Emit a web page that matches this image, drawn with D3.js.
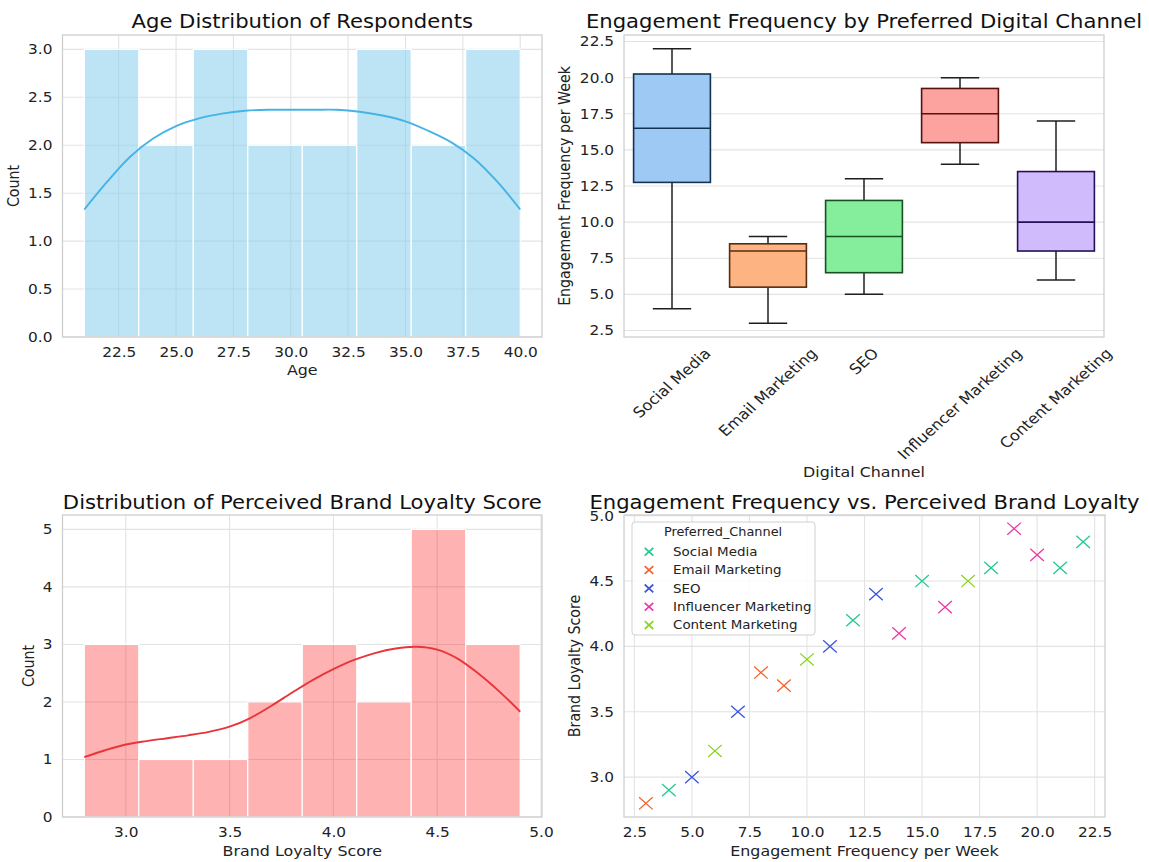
<!DOCTYPE html>
<html>
<head>
<meta charset="utf-8">
<script src="https://cdn.jsdelivr.net/npm/d3@7"></script>
<style>
  html, body { margin: 0; padding: 0; background: #ffffff; }
  svg { display: block; font-family: "DejaVu Sans", sans-serif; }
</style>
</head>
<body>
<svg id="chart" width="1149" height="862"></svg>
<script>
// ---------------- DATA ----------------
// Panel 1: age histogram
const ageRange = [21, 40];
const ageCounts = [3, 2, 3, 2, 2, 3, 2, 3];
const ageKdeX = [21, 22, 23, 24, 25, 26, 27, 28, 29, 30, 31, 32, 33, 34, 35, 36, 37, 38, 39, 40];
const ageKdeY = [1.33, 1.62, 1.88, 2.07, 2.20, 2.28, 2.33, 2.36, 2.37, 2.37, 2.37, 2.37, 2.35, 2.31, 2.25, 2.15, 2.03, 1.86, 1.62, 1.33];
const ageTicksX = [22.5, 25.0, 27.5, 30.0, 32.5, 35.0, 37.5, 40.0];
const ageTicksY = [0.0, 0.5, 1.0, 1.5, 2.0, 2.5, 3.0];

// Respondents: channel, engagement per week, brand loyalty
const channels = ["Social Media", "Email Marketing", "SEO", "Influencer Marketing", "Content Marketing"];
const respChannel = ["Email Marketing", "Social Media", "SEO", "Content Marketing", "SEO", "Email Marketing", "Email Marketing",
  "Content Marketing", "SEO", "Social Media", "SEO", "Influencer Marketing", "Social Media", "Influencer Marketing",
  "Content Marketing", "Social Media", "Influencer Marketing", "Influencer Marketing", "Social Media", "Social Media"];
const respEngagement = [3, 4, 5, 6, 7, 8, 9, 10, 11, 12, 13, 14, 15, 16, 17, 18, 19, 20, 21, 22];
const respLoyalty = [2.8, 2.9, 3.0, 3.2, 3.5, 3.8, 3.7, 3.9, 4.0, 4.2, 4.4, 4.1, 4.5, 4.3, 4.5, 4.6, 4.9, 4.7, 4.6, 4.8];

// Panel 2: box plot ticks
const engTicks = [2.5, 5.0, 7.5, 10.0, 12.5, 15.0, 17.5, 20.0, 22.5];

// Panel 3: loyalty histogram
const loyaltyRange = [2.8, 4.9];
const loyaltyCounts = [3, 1, 1, 2, 3, 2, 5, 3];
const loyaltyKdeX = [2.8, 2.9, 3.0, 3.1, 3.2, 3.3, 3.4, 3.5, 3.6, 3.7, 3.8, 3.9, 4.0, 4.1, 4.2, 4.3, 4.4, 4.5, 4.6, 4.7, 4.8, 4.9];
const loyaltyKdeY = [1.04, 1.16, 1.26, 1.32, 1.37, 1.42, 1.48, 1.57, 1.72, 1.93, 2.16, 2.38, 2.57, 2.73, 2.85, 2.93, 2.96, 2.91, 2.75, 2.49, 2.18, 1.83];
const loyaltyTicksX = [3.0, 3.5, 4.0, 4.5, 5.0];
const loyaltyTicksY = [0, 1, 2, 3, 4, 5];

// Panel 4 ticks
const scatterTicksX = [2.5, 5.0, 7.5, 10.0, 12.5, 15.0, 17.5, 20.0, 22.5];
const scatterTicksY = [3.0, 3.5, 4.0, 4.5, 5.0];

// ---------------- STYLE ----------------
const boxColors = ["#9fc9f5", "#fdb482", "#84ee9c", "#fca3a0", "#d0bcfd"];
const scatterColors = ["#22c98e", "#f4622c", "#3a55e0", "#ea3aa8", "#8bd320"];
const gridColor = "#e3e3e3";
const spineColor = "#cccccc";
const SX = 1.12;                 // horizontal text stretch of the reference
const titleSize = 18.9, tickSize = 13.7, labelSize = 14.2;

const svg = d3.select("#chart");

function frame(g, w, h) {
  g.append("rect").attr("x", 0).attr("y", 0).attr("width", w).attr("height", h)
    .attr("fill", "none").attr("stroke", spineColor).attr("stroke-width", 1.25);
}
function gridY(g, y, ticks, w) {
  g.append("g").selectAll("line").data(ticks).join("line")
    .attr("x1", 0).attr("x2", w).attr("y1", d => y(d)).attr("y2", d => y(d))
    .attr("stroke", gridColor).attr("stroke-width", 1.1);
}
function gridX(g, x, ticks, h) {
  g.append("g").selectAll("line").data(ticks).join("line")
    .attr("y1", 0).attr("y2", h).attr("x1", d => x(d)).attr("x2", d => x(d))
    .attr("stroke", gridColor).attr("stroke-width", 1.1);
}
function styleAxis(ax) {
  ax.select(".domain").remove();
  ax.selectAll("line").remove();
  ax.selectAll("text").attr("font-size", tickSize).attr("fill", "#222")
    .attr("font-family", "DejaVu Sans, sans-serif");
}
function styleAxisLeft(ax, pad) {
  styleAxis(ax);
  ax.selectAll("text").attr("x", -pad / SX).attr("transform", `scale(${SX},1)`);
}
function styleAxisBottom(ax) {
  styleAxis(ax);
  ax.selectAll("text").attr("transform", `scale(${SX},1)`);
}
function htext(x, y, txt, size, color) {
  return svg.append("text").attr("transform", `translate(${x},${y}) scale(${SX},1)`).attr("text-anchor", "middle")
    .attr("dominant-baseline", "central").attr("font-size", size).attr("fill", color).text(txt);
}
function title(x, y, txt) { htext(x, y, txt, titleSize, "#111"); }
function xlabel(x, y, txt) { htext(x, y, txt, labelSize, "#222"); }
function ylabel(x, y, txt) {
  svg.append("text").attr("transform", `translate(${x},${y}) scale(${SX},1) rotate(-90)`).attr("text-anchor", "middle")
    .attr("dominant-baseline", "central").attr("font-size", labelSize).attr("fill", "#222").text(txt);
}

// ---------------- PANEL 1: Age histogram ----------------
(function () {
  const L = 62.5, T = 35, W = 479.5, H = 302;
  const g = svg.append("g").attr("transform", `translate(${L},${T})`);
  const pad = (ageRange[1] - ageRange[0]) * 0.05;
  const x = d3.scaleLinear().domain([ageRange[0] - pad, ageRange[1] + pad]).range([0, W]);
  const y = d3.scaleLinear().domain([0, d3.max(ageCounts) * 1.05]).range([H, 0]);
  gridY(g, y, ageTicksY, W);
  gridX(g, x, ageTicksX, H);
  const bw = (ageRange[1] - ageRange[0]) / ageCounts.length;
  g.append("g").selectAll("rect").data(ageCounts).join("rect")
    .attr("x", (d, i) => x(ageRange[0] + i * bw))
    .attr("width", (d, i) => x(ageRange[0] + (i + 1) * bw) - x(ageRange[0] + i * bw))
    .attr("y", d => y(d)).attr("height", d => y(0) - y(d))
    .attr("fill", "#87CEEB").attr("fill-opacity", 0.55)
    .attr("stroke", "#ffffff").attr("stroke-width", 1.2);
  const line = d3.line().x(d => x(d[0])).y(d => y(d[1])).curve(d3.curveCatmullRom);
  g.append("path").datum(ageKdeX.map((v, i) => [v, ageKdeY[i]])).attr("d", line)
    .attr("fill", "none").attr("stroke", "#45b3e6").attr("stroke-width", 1.9);
  frame(g, W, H);
  const ax = g.append("g").attr("transform", `translate(0,${H})`)
    .call(d3.axisBottom(x).tickValues(ageTicksX).tickFormat(d3.format(".1f")).tickSize(0).tickPadding(10));
  styleAxisBottom(ax);
  const ay = g.append("g").call(d3.axisLeft(y).tickValues(ageTicksY).tickFormat(d3.format(".1f")).tickSize(0));
  styleAxisLeft(ay, 10);
  title(L + W / 2, 21.7, "Age Distribution of Respondents");
  xlabel(L + W / 2, 370, "Age");
  ylabel(14, T + H / 2, "Count");
})();

// ---------------- PANEL 2: Box plot ----------------
(function () {
  const L = 624, T = 35, W = 480, H = 302;
  const g = svg.append("g").attr("transform", `translate(${L},${T})`);
  const x = d3.scaleBand().domain(channels).range([0, W]).padding(0);
  const ext = d3.extent(respEngagement);
  const pad = (ext[1] - ext[0]) * 0.05;
  const y = d3.scaleLinear().domain([ext[0] - pad, ext[1] + pad]).range([H, 0]);
  gridY(g, y, engTicks, W);
  const stats = channels.map((c, i) => {
    const vals = respEngagement.filter((v, j) => respChannel[j] === c).sort(d3.ascending);
    const q1 = d3.quantile(vals, 0.25), med = d3.quantile(vals, 0.5), q3 = d3.quantile(vals, 0.75);
    const iqr = q3 - q1;
    const lo = d3.min(vals.filter(v => v >= q1 - 1.5 * iqr));
    const hi = d3.max(vals.filter(v => v <= q3 + 1.5 * iqr));
    return { c, i, q1, med, q3, lo, hi };
  });
  const bw = x.bandwidth() * 0.8;
  const capW = bw * 0.5;
  const edge = i => { const h = d3.hsl(boxColors[i]); h.l = 0.2; h.s = Math.min(1, h.s * 0.75); return h.formatHex(); };
  const bg = g.append("g").selectAll("g").data(stats).join("g")
    .attr("transform", d => `translate(${x(d.c) + x.bandwidth() / 2},0)`);
  const wc = "#1e1e1e";
  bg.append("line").attr("x1", 0).attr("x2", 0).attr("y1", d => y(d.hi)).attr("y2", d => y(d.q3)).attr("stroke", wc).attr("stroke-width", 1.5);
  bg.append("line").attr("x1", 0).attr("x2", 0).attr("y1", d => y(d.lo)).attr("y2", d => y(d.q1)).attr("stroke", wc).attr("stroke-width", 1.5);
  bg.append("line").attr("x1", -capW / 2).attr("x2", capW / 2).attr("y1", d => y(d.hi)).attr("y2", d => y(d.hi)).attr("stroke", wc).attr("stroke-width", 1.5);
  bg.append("line").attr("x1", -capW / 2).attr("x2", capW / 2).attr("y1", d => y(d.lo)).attr("y2", d => y(d.lo)).attr("stroke", wc).attr("stroke-width", 1.5);
  bg.append("rect").attr("x", -bw / 2).attr("width", bw)
    .attr("y", d => y(d.q3)).attr("height", d => y(d.q1) - y(d.q3))
    .attr("fill", d => boxColors[d.i])
    .attr("stroke", d => edge(d.i)).attr("stroke-width", 1.6);
  bg.append("line").attr("x1", -bw / 2).attr("x2", bw / 2).attr("y1", d => y(d.med)).attr("y2", d => y(d.med))
    .attr("stroke", d => edge(d.i)).attr("stroke-width", 1.6);
  frame(g, W, H);
  const ay = g.append("g").call(d3.axisLeft(y).tickValues(engTicks).tickFormat(d3.format(".1f")).tickSize(0));
  styleAxisLeft(ay, 10);
  // rotated category labels (centred under each tick)
  const top = 346, rs = 14.5;
  channels.forEach(c => {
    const t = svg.append("text").attr("font-size", rs).attr("fill", "#222").attr("text-anchor", "middle")
      .attr("dominant-baseline", "central").text(c);
    const len = t.node().getComputedTextLength();
    const bh = (len + rs * 1.0) * Math.SQRT1_2;
    t.attr("transform", `translate(${L + x(c) + x.bandwidth() / 2},${top + bh / 2}) scale(${SX},1) rotate(-45)`);
  });
  title(L + W / 2, 21.7, "Engagement Frequency by Preferred Digital Channel");
  xlabel(L + W / 2, 472, "Digital Channel");
  ylabel(565, T + H / 2, "Engagement Frequency per Week");
})();

// ---------------- PANEL 3: Loyalty histogram ----------------
(function () {
  const L = 62.5, T = 515, W = 479.5, H = 302;
  const g = svg.append("g").attr("transform", `translate(${L},${T})`);
  const pad = (loyaltyRange[1] - loyaltyRange[0]) * 0.05;
  const x = d3.scaleLinear().domain([loyaltyRange[0] - pad, loyaltyRange[1] + pad]).range([0, W]);
  const y = d3.scaleLinear().domain([0, d3.max(loyaltyCounts) * 1.05]).range([H, 0]);
  gridY(g, y, loyaltyTicksY, W);
  gridX(g, x, loyaltyTicksX, H);
  const bw = (loyaltyRange[1] - loyaltyRange[0]) / loyaltyCounts.length;
  g.append("g").selectAll("rect").data(loyaltyCounts).join("rect")
    .attr("x", (d, i) => x(loyaltyRange[0] + i * bw))
    .attr("width", (d, i) => x(loyaltyRange[0] + (i + 1) * bw) - x(loyaltyRange[0] + i * bw))
    .attr("y", d => y(d)).attr("height", d => y(0) - y(d))
    .attr("fill", "#ff0000").attr("fill-opacity", 0.3)
    .attr("stroke", "#ffffff").attr("stroke-width", 1.2);
  const line = d3.line().x(d => x(d[0])).y(d => y(d[1])).curve(d3.curveCatmullRom);
  g.append("path").datum(loyaltyKdeX.map((v, i) => [v, loyaltyKdeY[i]])).attr("d", line)
    .attr("fill", "none").attr("stroke", "#e8353a").attr("stroke-width", 1.9);
  frame(g, W, H);
  const ax = g.append("g").attr("transform", `translate(0,${H})`)
    .call(d3.axisBottom(x).tickValues(loyaltyTicksX).tickFormat(d3.format(".1f")).tickSize(0).tickPadding(10));
  styleAxisBottom(ax);
  const ay = g.append("g").call(d3.axisLeft(y).tickValues(loyaltyTicksY).tickFormat(d3.format("d")).tickSize(0));
  styleAxisLeft(ay, 10);
  title(L + W / 2, 502.7, "Distribution of Perceived Brand Loyalty Score");
  xlabel(L + W / 2, 851, "Brand Loyalty Score");
  ylabel(28.6, T + H / 2, "Count");
})();

// ---------------- PANEL 4: Scatter ----------------
(function () {
  const L = 624, T = 515, W = 481, H = 302;
  const g = svg.append("g").attr("transform", `translate(${L},${T})`);
  const ex = d3.extent(respEngagement), ey = d3.extent(respLoyalty);
  const px = (ex[1] - ex[0]) * 0.05, py = (ey[1] - ey[0]) * 0.05;
  const x = d3.scaleLinear().domain([ex[0] - px, ex[1] + px]).range([0, W]);
  const y = d3.scaleLinear().domain([ey[0] - py, ey[1] + py]).range([H, 0]);
  const color = d3.scaleOrdinal().domain(channels).range(scatterColors);
  gridY(g, y, scatterTicksY, W);
  gridX(g, x, scatterTicksX, H);
  const sx = 6.8, sy = 6.1;
  g.append("g").selectAll("path").data(respEngagement.map((v, i) => ({ x: v, y: respLoyalty[i], c: respChannel[i] })))
    .join("path")
    .attr("d", d => `M${x(d.x) - sx},${y(d.y) - sy}L${x(d.x) + sx},${y(d.y) + sy}M${x(d.x) - sx},${y(d.y) + sy}L${x(d.x) + sx},${y(d.y) - sy}`)
    .attr("stroke", d => color(d.c)).attr("stroke-width", 1.3).attr("fill", "none");
  frame(g, W, H);
  const ax = g.append("g").attr("transform", `translate(0,${H})`)
    .call(d3.axisBottom(x).tickValues(scatterTicksX).tickFormat(d3.format(".1f")).tickSize(0).tickPadding(10));
  styleAxisBottom(ax);
  const ay = g.append("g").call(d3.axisLeft(y).tickValues(scatterTicksY).tickFormat(d3.format(".1f")).tickSize(0));
  styleAxisLeft(ay, 10);
  // legend
  const lg = svg.append("g").attr("transform", `translate(632,522)`);
  lg.append("rect").attr("x", 0).attr("y", 0).attr("width", 183).attr("height", 113).attr("rx", 3)
    .attr("fill", "#ffffff").attr("fill-opacity", 0.85).attr("stroke", "#d0d0d0").attr("stroke-width", 1);
  lg.append("text").attr("transform", `translate(91,10.5) scale(${SX},1)`).attr("text-anchor", "middle").attr("dominant-baseline", "central")
    .attr("font-size", 11.5).attr("fill", "#222").text("Preferred_Channel");
  channels.forEach((c, i) => {
    const yy = 29.7 + i * 18.35;
    const mx = 4.3, my = 3.9;
    lg.append("path").attr("d", `M${17 - mx},${yy - my}L${17 + mx},${yy + my}M${17 - mx},${yy + my}L${17 + mx},${yy - my}`)
      .attr("stroke", color(c)).attr("stroke-width", 1.7);
    lg.append("text").attr("transform", `translate(41,${yy}) scale(${SX},1)`).attr("dominant-baseline", "central")
      .attr("font-size", 12).attr("fill", "#222").text(c);
  });
  title(L + W / 2, 502, "Engagement Frequency vs. Perceived Brand Loyalty");
  xlabel(L + W / 2, 851, "Engagement Frequency per Week");
  ylabel(575, T + H / 2, "Brand Loyalty Score");
})();
</script>
</body>
</html>
